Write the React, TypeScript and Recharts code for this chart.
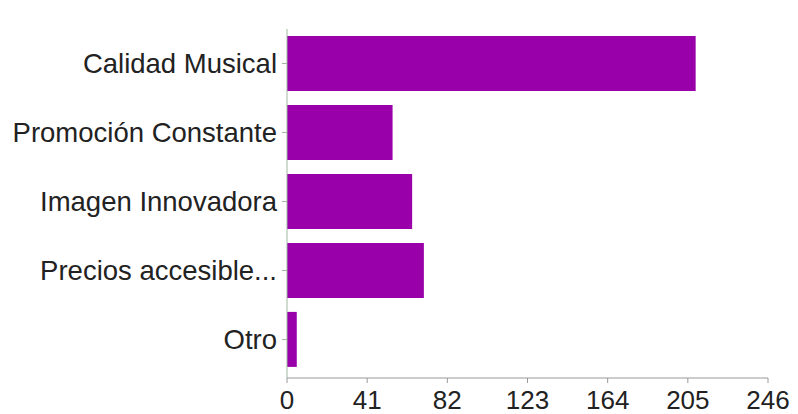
import React from "react";
import { BarChart, Bar, XAxis, YAxis } from "recharts";

const categories = ["Calidad Musical", "Promoción Constante", "Imagen Innovadora", "Precios accesible...", "Otro"];
const values = [209, 54, 64, 70, 5];
const xTicks = [0, 41, 82, 123, 164, 205, 246];

const data = categories.map((name, i) => ({ name, value: values[i] }));

export default function App() {
  return (
    <BarChart
      width={790}
      height={406}
      data={data}
      layout="vertical"
      margin={{ top: 21, right: 30, bottom: 0, left: 0 }}
      barCategoryGap="10%"
      style={{ fontFamily: "'Liberation Sans', Arial, sans-serif" }}
    >
      <XAxis
        type="number"
        domain={[0, 246]}
        ticks={xTicks}
        height={36}
        tickSize={5}
        tickMargin={8}
        stroke="#999999"
        tick={{ fill: "#222222", fontSize: 26 }}
        interval={0}
      />
      <YAxis
        type="category"
        dataKey="name"
        width={279}
        tickSize={5}
        tickMargin={5}
        stroke="#9fb89f"
        padding={{ top: 0, bottom: 4 }}
        tick={{ fill: "#222222", fontSize: 27.5 }}
        interval={0}
      />
      <Bar dataKey="value" fill="#9900aa" isAnimationActive={false} />
    </BarChart>
  );
}
